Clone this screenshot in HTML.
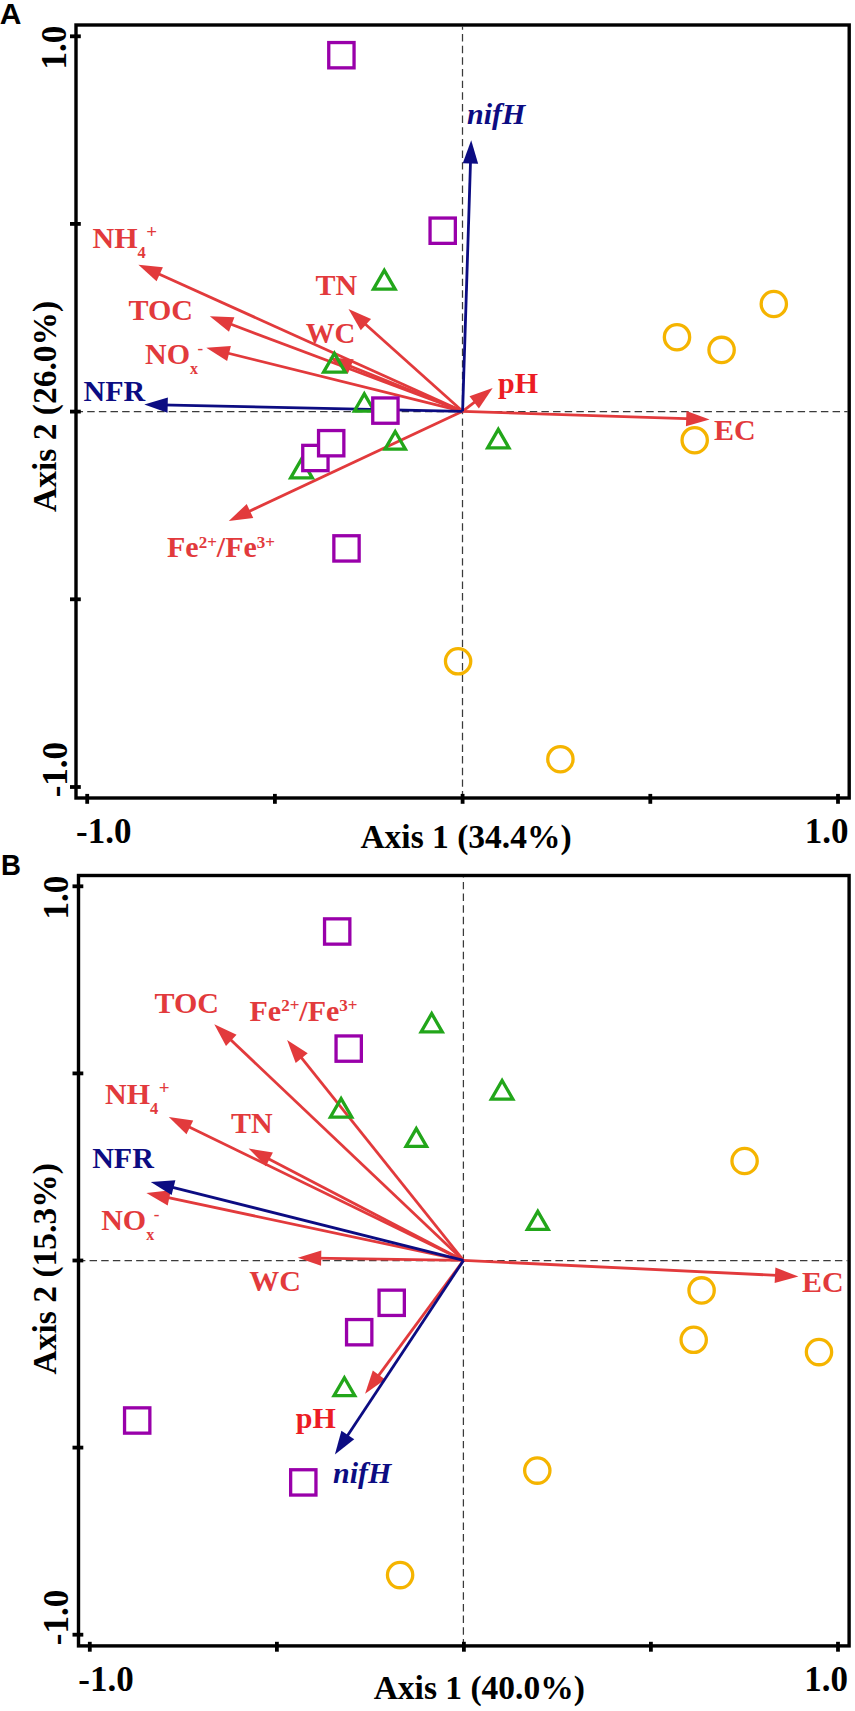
<!DOCTYPE html>
<html><head><meta charset="utf-8"><style>
html,body{margin:0;padding:0;background:#fff;}
body{width:855px;height:1711px;overflow:hidden;}
svg{display:block;}

</style></head><body>
<svg width="855" height="1711" viewBox="0 0 855 1711">
<rect width="855" height="1711" fill="#fff"/>
<line x1="462.5" y1="26.7" x2="462.5" y2="796.4" stroke="#3a3a3a" stroke-width="1.25" stroke-dasharray="7.45 4.196" stroke-dashoffset="4.28"/>
<line x1="77.8" y1="411.5" x2="847.6" y2="411.5" stroke="#3a3a3a" stroke-width="1.25" stroke-dasharray="7.45 4.196" stroke-dashoffset="2.22"/>
<rect x="76" y="25" width="773.2" height="773" fill="none" stroke="#000" stroke-width="3.4" stroke-linejoin="miter"/>
<line x1="87.2" y1="793.9" x2="87.2" y2="803.8" stroke="#000" stroke-width="3.8"/>
<line x1="274.9" y1="793.9" x2="274.9" y2="803.8" stroke="#000" stroke-width="3.8"/>
<line x1="462.6" y1="793.9" x2="462.6" y2="803.8" stroke="#000" stroke-width="3.8"/>
<line x1="650.3" y1="793.9" x2="650.3" y2="803.8" stroke="#000" stroke-width="3.8"/>
<line x1="838" y1="793.9" x2="838" y2="803.8" stroke="#000" stroke-width="3.8"/>
<line x1="70" y1="36.3" x2="80.8" y2="36.3" stroke="#000" stroke-width="3.8"/>
<line x1="70" y1="223.9" x2="80.8" y2="223.9" stroke="#000" stroke-width="3.8"/>
<line x1="70" y1="411.6" x2="80.8" y2="411.6" stroke="#000" stroke-width="3.8"/>
<line x1="70" y1="599.3" x2="80.8" y2="599.3" stroke="#000" stroke-width="3.8"/>
<line x1="70" y1="787" x2="80.8" y2="787" stroke="#000" stroke-width="3.8"/>
<line x1="462.6" y1="411.3" x2="153.33" y2="271.45" stroke="#e23a3c" stroke-width="2.8"/>
<polygon points="138.4,264.7 162.89,267.33 156.55,281.36" fill="#e23a3c"/>
<line x1="462.6" y1="411.3" x2="225.13" y2="322.06" stroke="#e23a3c" stroke-width="2.8"/>
<polygon points="209.8,316.3 234.41,317.32 229,331.74" fill="#e23a3c"/>
<line x1="462.6" y1="411.3" x2="222.2" y2="351.74" stroke="#e23a3c" stroke-width="2.8"/>
<polygon points="206.3,347.8 230.87,345.95 227.16,360.9" fill="#e23a3c"/>
<line x1="462.6" y1="411.3" x2="360.7" y2="319.93" stroke="#e23a3c" stroke-width="2.8"/>
<polygon points="348.5,309 371.06,318.89 360.78,330.35" fill="#e23a3c"/>
<line x1="462.6" y1="411.3" x2="344.3" y2="363.71" stroke="#e23a3c" stroke-width="2.8"/>
<polygon points="329.1,357.6 353.68,359.19 347.94,373.48" fill="#e23a3c"/>
<line x1="462.6" y1="411.3" x2="479.73" y2="398.1" stroke="#e23a3c" stroke-width="2.8"/>
<polygon points="492.7,388.1 478.87,408.48 469.47,396.29" fill="#e23a3c"/>
<line x1="462.6" y1="411.3" x2="693.23" y2="418.86" stroke="#e23a3c" stroke-width="2.8"/>
<polygon points="709.6,419.4 685.96,426.33 686.46,410.94" fill="#e23a3c"/>
<line x1="462.6" y1="411.3" x2="243.63" y2="513.95" stroke="#e23a3c" stroke-width="2.8"/>
<polygon points="228.8,520.9 246.72,504 253.26,517.94" fill="#e23a3c"/>
<line x1="462.6" y1="411.3" x2="470.68" y2="156.57" stroke="#0c0c82" stroke-width="2.8"/>
<polygon points="471.2,140.2 478.15,163.83 462.76,163.34" fill="#0c0c82"/>
<line x1="462.6" y1="411.3" x2="160.68" y2="404.94" stroke="#0c0c82" stroke-width="2.8"/>
<polygon points="144.3,404.6 167.86,397.39 167.53,412.79" fill="#0c0c82"/>
<polygon points="334.4,353.4 345.23,372.15 323.57,372.15" fill="none" stroke="#22a61a" stroke-width="3.3" stroke-linejoin="miter"/>
<polygon points="364.3,393.9 374.2,411.05 354.4,411.05" fill="none" stroke="#22a61a" stroke-width="3.3" stroke-linejoin="miter"/>
<polygon points="384.3,270.3 395.13,289.05 373.47,289.05" fill="none" stroke="#22a61a" stroke-width="3.3" stroke-linejoin="miter"/>
<polygon points="395.2,431.5 405.39,449.15 385.01,449.15" fill="none" stroke="#22a61a" stroke-width="3.3" stroke-linejoin="miter"/>
<polygon points="301.5,459.1 312.33,477.85 290.67,477.85" fill="none" stroke="#22a61a" stroke-width="3.3" stroke-linejoin="miter"/>
<polygon points="498.3,429.4 508.95,447.85 487.65,447.85" fill="none" stroke="#22a61a" stroke-width="3.3" stroke-linejoin="miter"/>
<rect x="328.75" y="42.55" width="25.3" height="25.3" fill="#fff" stroke="#9900aa" stroke-width="3.3"/>
<rect x="430.05" y="218.05" width="25.3" height="25.3" fill="#fff" stroke="#9900aa" stroke-width="3.3"/>
<rect x="372.75" y="397.95" width="25.3" height="25.3" fill="#fff" stroke="#9900aa" stroke-width="3.3"/>
<rect x="302.75" y="445.35" width="25.3" height="25.3" fill="#fff" stroke="#9900aa" stroke-width="3.3"/>
<rect x="318.55" y="430.55" width="25.3" height="25.3" fill="#fff" stroke="#9900aa" stroke-width="3.3"/>
<rect x="333.85" y="535.75" width="25.3" height="25.3" fill="#fff" stroke="#9900aa" stroke-width="3.3"/>
<circle cx="773.8" cy="304" r="12.65" fill="none" stroke="#f5b400" stroke-width="3.3"/>
<circle cx="677" cy="337.2" r="12.65" fill="none" stroke="#f5b400" stroke-width="3.3"/>
<circle cx="721.6" cy="349.9" r="12.65" fill="none" stroke="#f5b400" stroke-width="3.3"/>
<circle cx="694.7" cy="440.2" r="12.65" fill="none" stroke="#f5b400" stroke-width="3.3"/>
<circle cx="458.1" cy="661.3" r="12.65" fill="none" stroke="#f5b400" stroke-width="3.3"/>
<circle cx="560.4" cy="759.2" r="12.65" fill="none" stroke="#f5b400" stroke-width="3.3"/>
<text transform="translate(92.5,248) scale(1.0,1)" font-size="30" fill="#e23a3c" font-family="Liberation Serif" font-weight="bold">NH<tspan font-size="16.5" dy="9.5">4</tspan><tspan font-size="19" dy="-20" dx="0.5">+</tspan></text>
<text transform="translate(128.5,319.8) scale(1.0,1)" font-size="30" fill="#e23a3c" font-family="Liberation Serif" font-weight="bold">TOC</text>
<text transform="translate(145,363.7) scale(1.0,1)" font-size="30" fill="#e23a3c" font-family="Liberation Serif" font-weight="bold">NO<tspan font-size="16" dy="10">x</tspan><tspan font-size="17" dy="-20" dx="-0.5">-</tspan></text>
<text transform="translate(315.5,294.6) scale(1.0,1)" font-size="30" fill="#e23a3c" font-family="Liberation Serif" font-weight="bold">TN</text>
<text transform="translate(305.8,342.8) scale(0.96,1)" font-size="30" fill="#e23a3c" font-family="Liberation Serif" font-weight="bold">WC</text>
<text transform="translate(467,123.7) scale(1.0,1)" font-size="30" fill="#0c0c82" font-family="Liberation Serif" font-weight="bold" font-style="italic">nifH</text>
<text transform="translate(498,392.5) scale(1.0,1)" font-size="30" fill="#ec1c24" font-family="Liberation Serif" font-weight="bold">pH</text>
<text transform="translate(714,440) scale(1.0,1)" font-size="30" fill="#e23a3c" font-family="Liberation Serif" font-weight="bold">EC</text>
<text transform="translate(83.5,400.9) scale(1.0,1)" font-size="30" fill="#0c0c82" font-family="Liberation Serif" font-weight="bold">NFR</text>
<text transform="translate(167,557.1) scale(1.0,1)" font-size="30" fill="#e23a3c" font-family="Liberation Serif" font-weight="bold">Fe<tspan font-size="17" dy="-9.5">2+</tspan><tspan dy="9.5">/Fe</tspan><tspan font-size="17" dy="-9.5">3+</tspan></text>
<text x="-0.3" y="24.3" font-size="30" fill="#000" text-anchor="start" font-family="Liberation Sans" font-weight="bold" >A</text>
<text x="76" y="843.3" font-size="35" fill="#000" text-anchor="start" font-family="Liberation Serif" font-weight="bold" >-1.0</text>
<text x="848.4" y="843" font-size="35" fill="#000" text-anchor="end" font-family="Liberation Serif" font-weight="bold" >1.0</text>
<text x="466" y="848.2" font-size="33.5" fill="#000" text-anchor="middle" font-family="Liberation Serif" font-weight="bold" >Axis 1 (34.4%)</text>
<g transform="translate(65.5,47.6) rotate(-90)"><text x="0" y="0" font-size="35" text-anchor="middle" font-family="Liberation Serif" font-weight="bold">1.0</text></g>
<g transform="translate(66.7,769.6) rotate(-90)"><text x="0" y="0" font-size="35" text-anchor="middle" font-family="Liberation Serif" font-weight="bold">-1.0</text></g>
<g transform="translate(55.7,406.4) rotate(-90)"><text x="0" y="0" font-size="33.5" text-anchor="middle" font-family="Liberation Serif" font-weight="bold">Axis 2 (26.0%)</text></g>
<line x1="463.4" y1="877.2" x2="463.4" y2="1644" stroke="#3a3a3a" stroke-width="1.25" stroke-dasharray="7.45 4.196" stroke-dashoffset="6.95"/>
<line x1="80.1" y1="1260.5" x2="847.4" y2="1260.5" stroke="#3a3a3a" stroke-width="1.25" stroke-dasharray="7.45 4.196" stroke-dashoffset="2.17"/>
<rect x="78.5" y="875.5" width="770.6" height="770.4" fill="none" stroke="#000" stroke-width="3.4" stroke-linejoin="miter"/>
<line x1="89.8" y1="1641.8" x2="89.8" y2="1651.7" stroke="#000" stroke-width="3.8"/>
<line x1="276.9" y1="1641.8" x2="276.9" y2="1651.7" stroke="#000" stroke-width="3.8"/>
<line x1="463.9" y1="1641.8" x2="463.9" y2="1651.7" stroke="#000" stroke-width="3.8"/>
<line x1="650.9" y1="1641.8" x2="650.9" y2="1651.7" stroke="#000" stroke-width="3.8"/>
<line x1="838" y1="1641.8" x2="838" y2="1651.7" stroke="#000" stroke-width="3.8"/>
<line x1="72.5" y1="886.3" x2="83.3" y2="886.3" stroke="#000" stroke-width="3.8"/>
<line x1="72.5" y1="1073.4" x2="83.3" y2="1073.4" stroke="#000" stroke-width="3.8"/>
<line x1="72.5" y1="1260.5" x2="83.3" y2="1260.5" stroke="#000" stroke-width="3.8"/>
<line x1="72.5" y1="1447.6" x2="83.3" y2="1447.6" stroke="#000" stroke-width="3.8"/>
<line x1="72.5" y1="1634.7" x2="83.3" y2="1634.7" stroke="#000" stroke-width="3.8"/>
<line x1="463.5" y1="1260.4" x2="226.19" y2="1035.47" stroke="#e23a3c" stroke-width="2.8"/>
<polygon points="214.3,1024.2 236.58,1034.71 225.99,1045.89" fill="#e23a3c"/>
<line x1="463.5" y1="1260.4" x2="297.33" y2="1052.69" stroke="#e23a3c" stroke-width="2.8"/>
<polygon points="287.1,1039.9 307.73,1053.36 295.71,1062.98" fill="#e23a3c"/>
<line x1="463.5" y1="1260.4" x2="183.53" y2="1124.26" stroke="#e23a3c" stroke-width="2.8"/>
<polygon points="168.8,1117.1 193.21,1120.41 186.48,1134.26" fill="#e23a3c"/>
<line x1="463.5" y1="1260.4" x2="263.13" y2="1156.07" stroke="#e23a3c" stroke-width="2.8"/>
<polygon points="248.6,1148.5 272.91,1152.48 265.8,1166.14" fill="#e23a3c"/>
<line x1="463.5" y1="1260.4" x2="162.42" y2="1196.41" stroke="#e23a3c" stroke-width="2.8"/>
<polygon points="146.4,1193 170.89,1190.33 167.69,1205.4" fill="#e23a3c"/>
<line x1="463.5" y1="1260.4" x2="314.18" y2="1258.06" stroke="#e23a3c" stroke-width="2.8"/>
<polygon points="297.8,1257.8 321.32,1250.47 321.08,1265.87" fill="#e23a3c"/>
<line x1="463.5" y1="1260.4" x2="782.04" y2="1275.62" stroke="#e23a3c" stroke-width="2.8"/>
<polygon points="798.4,1276.4 774.66,1282.97 775.39,1267.59" fill="#e23a3c"/>
<line x1="463.5" y1="1260.4" x2="374.82" y2="1380.62" stroke="#e23a3c" stroke-width="2.8"/>
<polygon points="365.1,1393.8 372.79,1370.4 385.19,1379.54" fill="#e23a3c"/>
<line x1="463.5" y1="1260.4" x2="166.69" y2="1185.89" stroke="#0c0c82" stroke-width="2.8"/>
<polygon points="150.8,1181.9 175.37,1180.13 171.62,1195.07" fill="#0c0c82"/>
<line x1="463.5" y1="1260.4" x2="343.94" y2="1440.94" stroke="#0c0c82" stroke-width="2.8"/>
<polygon points="334.9,1454.6 341.4,1430.84 354.24,1439.34" fill="#0c0c82"/>
<polygon points="431.7,1013.6 442.24,1031.85 421.16,1031.85" fill="none" stroke="#22a61a" stroke-width="3.3" stroke-linejoin="miter"/>
<polygon points="341.1,1098.6 351.75,1117.05 330.45,1117.05" fill="none" stroke="#22a61a" stroke-width="3.3" stroke-linejoin="miter"/>
<polygon points="416.3,1128.6 426.55,1146.35 406.05,1146.35" fill="none" stroke="#22a61a" stroke-width="3.3" stroke-linejoin="miter"/>
<polygon points="502.1,1080.5 512.81,1099.05 491.39,1099.05" fill="none" stroke="#22a61a" stroke-width="3.3" stroke-linejoin="miter"/>
<polygon points="537.8,1211.3 548.22,1229.35 527.38,1229.35" fill="none" stroke="#22a61a" stroke-width="3.3" stroke-linejoin="miter"/>
<polygon points="344.4,1377.7 354.76,1395.65 334.04,1395.65" fill="none" stroke="#22a61a" stroke-width="3.3" stroke-linejoin="miter"/>
<rect x="324.55" y="918.85" width="25.3" height="25.3" fill="#fff" stroke="#9900aa" stroke-width="3.3"/>
<rect x="336.05" y="1035.95" width="25.3" height="25.3" fill="#fff" stroke="#9900aa" stroke-width="3.3"/>
<rect x="379.05" y="1290.15" width="25.3" height="25.3" fill="#fff" stroke="#9900aa" stroke-width="3.3"/>
<rect x="346.55" y="1319.55" width="25.3" height="25.3" fill="#fff" stroke="#9900aa" stroke-width="3.3"/>
<rect x="124.55" y="1407.85" width="25.3" height="25.3" fill="#fff" stroke="#9900aa" stroke-width="3.3"/>
<rect x="290.65" y="1469.75" width="25.3" height="25.3" fill="#fff" stroke="#9900aa" stroke-width="3.3"/>
<circle cx="744.6" cy="1161" r="12.65" fill="none" stroke="#f5b400" stroke-width="3.3"/>
<circle cx="701.6" cy="1290.4" r="12.65" fill="none" stroke="#f5b400" stroke-width="3.3"/>
<circle cx="693.7" cy="1339.8" r="12.65" fill="none" stroke="#f5b400" stroke-width="3.3"/>
<circle cx="819" cy="1352.1" r="12.65" fill="none" stroke="#f5b400" stroke-width="3.3"/>
<circle cx="537.3" cy="1470.6" r="12.65" fill="none" stroke="#f5b400" stroke-width="3.3"/>
<circle cx="400.1" cy="1575.1" r="12.65" fill="none" stroke="#f5b400" stroke-width="3.3"/>
<text transform="translate(154.5,1013.3) scale(1.0,1)" font-size="30" fill="#e23a3c" font-family="Liberation Serif" font-weight="bold">TOC</text>
<text transform="translate(249.5,1020.6) scale(1.0,1)" font-size="30" fill="#e23a3c" font-family="Liberation Serif" font-weight="bold">Fe<tspan font-size="17" dy="-9.5">2+</tspan><tspan dy="9.5">/Fe</tspan><tspan font-size="17" dy="-9.5">3+</tspan></text>
<text transform="translate(105,1104) scale(1.0,1)" font-size="30" fill="#e23a3c" font-family="Liberation Serif" font-weight="bold">NH<tspan font-size="16.5" dy="9.5">4</tspan><tspan font-size="19" dy="-20" dx="0.5">+</tspan></text>
<text transform="translate(231,1132.5) scale(1.0,1)" font-size="30" fill="#e23a3c" font-family="Liberation Serif" font-weight="bold">TN</text>
<text transform="translate(92.2,1168.3) scale(1.0,1)" font-size="30" fill="#0c0c82" font-family="Liberation Serif" font-weight="bold">NFR</text>
<text transform="translate(101.2,1230) scale(1.0,1)" font-size="30" fill="#e23a3c" font-family="Liberation Serif" font-weight="bold">NO<tspan font-size="16" dy="10">x</tspan><tspan font-size="17" dy="-20" dx="-0.5">-</tspan></text>
<text transform="translate(249.3,1290.7) scale(1.0,1)" font-size="30" fill="#e23a3c" font-family="Liberation Serif" font-weight="bold">WC</text>
<text transform="translate(802,1292) scale(1.0,1)" font-size="30" fill="#e23a3c" font-family="Liberation Serif" font-weight="bold">EC</text>
<text transform="translate(295.8,1427.7) scale(1.0,1)" font-size="30" fill="#ec1c24" font-family="Liberation Serif" font-weight="bold">pH</text>
<text transform="translate(333,1483) scale(1.0,1)" font-size="30" fill="#0c0c82" font-family="Liberation Serif" font-weight="bold" font-style="italic">nifH</text>
<text transform="translate(0.9,875.4) scale(0.92,1)" font-size="30" fill="#000" font-family="Liberation Sans" font-weight="bold">B</text>
<text x="78.3" y="1691.2" font-size="35" fill="#000" text-anchor="start" font-family="Liberation Serif" font-weight="bold" >-1.0</text>
<text x="848" y="1690.8" font-size="35" fill="#000" text-anchor="end" font-family="Liberation Serif" font-weight="bold" >1.0</text>
<text x="479.3" y="1699.1" font-size="33.5" fill="#000" text-anchor="middle" font-family="Liberation Serif" font-weight="bold" >Axis 1 (40.0%)</text>
<g transform="translate(68,897.5) rotate(-90)"><text x="0" y="0" font-size="35" text-anchor="middle" font-family="Liberation Serif" font-weight="bold">1.0</text></g>
<g transform="translate(68.2,1617.5) rotate(-90)"><text x="0" y="0" font-size="35" text-anchor="middle" font-family="Liberation Serif" font-weight="bold">-1.0</text></g>
<g transform="translate(55.7,1268.8) rotate(-90)"><text x="0" y="0" font-size="33.5" text-anchor="middle" font-family="Liberation Serif" font-weight="bold">Axis 2 (15.3%)</text></g>
</svg>
</body></html>
